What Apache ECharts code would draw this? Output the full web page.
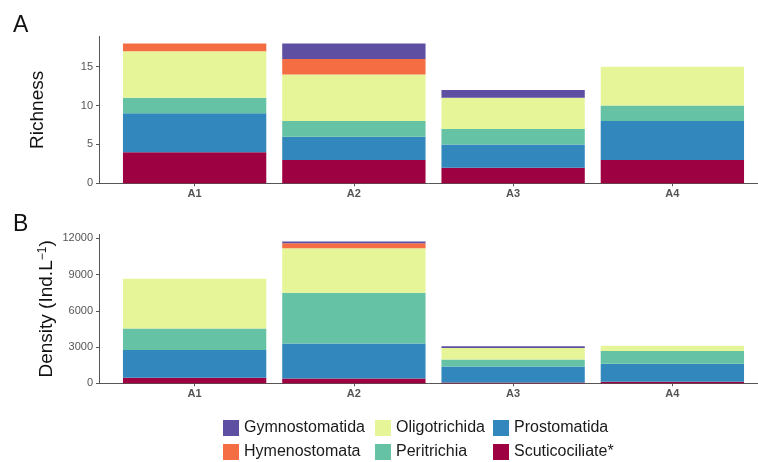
<!DOCTYPE html>
<html><head><meta charset="utf-8">
<script src="https://cdn.jsdelivr.net/npm/echarts@6/dist/echarts.min.js"></script>
<style>html,body{margin:0;padding:0;background:#fff}#c{width:758px;height:462px}</style>
</head><body><div id="c"></div>
<script>
const categories = ['A1', 'A2', 'A3', 'A4'];
const groups = ['Scuticociliate*', 'Prostomatida', 'Peritrichia', 'Oligotrichida', 'Hymenostomata', 'Gymnostomatida'];
const legendCols = [['Gymnostomatida', 'Hymenostomata'], ['Oligotrichida', 'Peritrichia'], ['Prostomatida', 'Scuticociliate*']];
const colors = {'Gymnostomatida': '#5E4FA2', 'Hymenostomata': '#F46D43', 'Oligotrichida': '#E6F598', 'Peritrichia': '#66C2A5', 'Prostomatida': '#3288BD', 'Scuticociliate*': '#9E0142'};

// Richness (panel A)
const richScutico = [4, 3, 2, 3];
const richProsto  = [5, 3, 3, 5];
const richPeri    = [2, 2, 2, 2];
const richOligo   = [6, 6, 4, 5];
const richHymeno  = [1, 2, 0, 0];
const richGymno   = [0, 2, 1, 0];

// Density (panel B)
const densScutico = [450, 400, 70, 120];
const densProsto  = [2300, 2900, 1330, 1490];
const densPeri    = [1780, 4200, 560, 1070];
const densOligo   = [4120, 3680, 970, 420];
const densHymeno  = [0, 420, 0, 0];
const densGymno   = [0, 130, 130, 0];

const richTicks = [0, 5, 10, 15];
const densTicks = [0, 3000, 6000, 9000, 12000];

const rich = [richScutico, richProsto, richPeri, richOligo, richHymeno, richGymno];
const dens = [densScutico, densProsto, densPeri, densOligo, densHymeno, densGymno];

function totals(arr) { return categories.map((_, i) => arr.reduce((s, a) => s + a[i], 0)); }
const richMax = Math.max(...totals(rich)) * 1.05;
const densMax = Math.max(...totals(dens)) * 1.05;

const axisCol = '#555';
const labCol = '#555';
const FONT = 'Liberation Sans';

function catAxis(gi) {
  return {
    type: 'category', gridIndex: gi, data: categories,
    axisLine: {show: false},
    axisTick: {show: true, alignWithLabel: true, length: 3, lineStyle: {color: axisCol}},
    axisLabel: {color: labCol, fontSize: 11, fontWeight: 'bold', fontFamily: FONT, margin: 5},
    splitLine: {show: false}
  };
}
function lineAxis(gi) {
  return {
    type: 'value', gridIndex: gi, min: 0, max: 1,
    axisLine: {show: true, onZero: false, lineStyle: {color: axisCol, width: 1}},
    axisTick: {show: false}, axisLabel: {show: false}, splitLine: {show: false}
  };
}
function yAxis(gi, max, ticks, name, gap) {
  return {
    type: 'value', gridIndex: gi, min: 0, max: max, offset: 16,
    axisLine: {show: true, lineStyle: {color: axisCol, width: 1}},
    axisTick: {show: true, length: 3, lineStyle: {color: axisCol}, customValues: ticks},
    axisLabel: {customValues: ticks, formatter: v => String(v), color: labCol, fontSize: 11, fontFamily: FONT, margin: 6},
    splitLine: {show: false},
    name: name, nameLocation: 'middle', nameGap: gap, nameMoveOverlap: false,
    nameTextStyle: {color: '#111', fontSize: 19, fontFamily: FONT,
      rich: {sup: {fontSize: 12, color: '#111', fontFamily: FONT, verticalAlign: 'top', padding: [0, 0, 8, 0]}}}
  };
}
function hiddenY(gi) { return {type: 'value', gridIndex: gi, show: false, min: 0, max: 1}; }

const series = [];
groups.forEach((g, k) => {
  series.push({name: g, type: 'bar', stack: 'r', xAxisIndex: 0, yAxisIndex: 0, barWidth: '90%',
    itemStyle: {color: colors[g]}, data: rich[k]});
  series.push({name: g, type: 'bar', stack: 'd', xAxisIndex: 1, yAxisIndex: 1, barWidth: '90%',
    itemStyle: {color: colors[g]}, data: dens[k]});
});

const legends = legendCols.map((col, j) => ({
  orient: 'vertical', left: [223, 375, 493][j], top: 420, itemWidth: 16, itemHeight: 16, itemGap: 8,
  icon: 'rect', data: col, selectedMode: false, padding: 0,
  textStyle: {fontSize: 16, lineHeight: 16, color: '#1a1a1a', fontFamily: FONT}
}));

const chart = echarts.init(document.getElementById('c'));
chart.setOption({
  animation: false,
  title: [
    {text: 'A', left: 13, top: 14, padding: 0, textStyle: {fontSize: 23, fontWeight: 'normal', color: '#111', fontFamily: FONT}},
    {text: 'B', left: 13, top: 213, padding: 0, textStyle: {fontSize: 23, fontWeight: 'normal', color: '#111', fontFamily: FONT}}
  ],
  legend: legends,
  grid: [
    {left: 115, width: 637, top: 36.4, height: 146.9},
    {left: 115, width: 637, top: 234.5, height: 148.8},
    {left: 99, width: 669, top: 36.4, height: 146.9},
    {left: 99, width: 669, top: 234.5, height: 148.8}
  ],
  xAxis: [catAxis(0), catAxis(1), lineAxis(2), lineAxis(3)],
  yAxis: [yAxis(0, richMax, richTicks, 'Richness', 52), yAxis(1, densMax, densTicks, 'Density (Ind.L{sup|−1})', 42), hiddenY(2), hiddenY(3)],
  series: series
});
</script></body></html>
